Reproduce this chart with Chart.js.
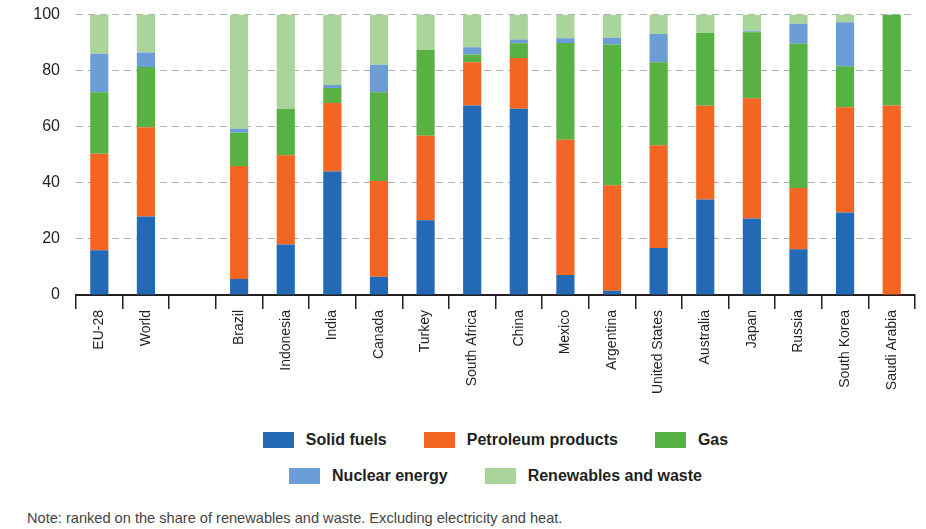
<!DOCTYPE html>
<html>
<head>
<meta charset="utf-8">
<script src="https://cdn.jsdelivr.net/npm/chart.js@4"></script>
<style>
	body {
		margin: 0;
		background: #fff;
		font-family: "Liberation Sans", Arial, sans-serif;
		color: #231f20;
	}
	#wrap {
		position: relative;
		width: 926px;
		height: 529px;
		overflow: hidden;
	}
	#chart-box {
		position: absolute;
		left: 0;
		top: -11px;
		width: 926px;
		height: 421px;
	}
	#legend {
		position: absolute;
		top: 431px;
	}
	.legend-row {
		display: flex;
		justify-content: center;
		gap: 37px;
		height: 35.5px;
	}
	.legend-item {
		display: flex;
		align-items: flex-start;
		font-weight: bold;
		font-size: 16px;
		line-height: 18px;
	}
	.legend-box {
		width: 31px;
		height: 16px;
		margin-right: 12px;
		margin-top: 1px;
	}
	#note {
		position: absolute;
		left: 27px;
		top: 510px;
		font-size: 14.6px;
		color: #444;
	}
</style>
</head>
<body>
<div id="wrap">
	<div id="chart-box"><canvas id="energyChart"></canvas></div>
	<div id="legend"></div>
	<div id="note">Note: ranked on the share of renewables and waste. Excluding electricity and heat.</div>
</div>
<script>
const categories = [
	"EU-28", "World", "", "Brazil", "Indonesia", "India", "Canada", "Turkey",
	"South Africa", "China", "Mexico", "Argentina", "United States",
	"Australia", "Japan", "Russia", "South Korea", "Saudi Arabia",
];

// shares in %, empty slot between World and Brazil
const solidFuels = [16, 28, null, 5.7, 18, 44, 6.5, 26.7, 67.6, 66.4, 7.1, 1.5, 16.8, 34.1, 27.3, 16.3, 29.4, 0];
const petroleum = [34.4, 31.8, null, 40.3, 31.8, 24.5, 34.2, 30.1, 15.4, 18.1, 48.3, 37.6, 36.6, 33.4, 42.9, 21.9, 37.6, 67.6];
const gas = [21.9, 21.5, null, 11.9, 16.5, 5.3, 31.6, 30.6, 2.8, 5.3, 34.5, 50.2, 29.6, 25.9, 23.5, 51.4, 14.6, 32.4];
const nuclear = [13.7, 5.2, null, 1.4, 0, 1.1, 9.8, 0, 2.6, 1.3, 1.7, 2.4, 10.1, 0, 0.4, 7.1, 15.7, 0];
const renewables = [14, 13.5, null, 40.7, 33.7, 25.1, 17.9, 12.6, 11.6, 8.9, 8.4, 8.3, 6.9, 6.6, 5.9, 3.3, 2.7, 0];

const yTicks = [0, 20, 40, 60, 80, 100];

const ctx = document.getElementById("energyChart").getContext("2d");
const chart = new Chart(ctx, {
	type: "bar",
	data: {
		labels: categories,
		datasets: [
			{ label: "Solid fuels", data: solidFuels, backgroundColor: "#2369b3" },
			{ label: "Petroleum products", data: petroleum, backgroundColor: "#f26522" },
			{ label: "Gas", data: gas, backgroundColor: "#57b143" },
			{ label: "Nuclear energy", data: nuclear, backgroundColor: "#6d9dd6" },
			{ label: "Renewables and waste", data: renewables, backgroundColor: "#a9d49a" },
		],
	},
	options: {
		responsive: true,
		maintainAspectRatio: false,
		animation: false,
		barPercentage: 0.39,
		categoryPercentage: 1,
		layout: {
			padding: { left: 0, right: 11, top: 3, bottom: 0 },
		},
		plugins: {
			legend: { display: false },
			tooltip: { enabled: false },
		},
		scales: {
			x: {
				stacked: true,
				afterFit: function (scale) {
					scale.height = 115;
				},
				grid: {
					offset: true,
					drawOnChartArea: false,
					drawTicks: true,
					tickLength: 14,
					color: "#231f20",
					lineWidth: 1.5,
				},
				border: { display: true, color: "#231f20", width: 2 },
				ticks: {
					autoSkip: false,
					maxRotation: 90,
					minRotation: 90,
					padding: 1,
					color: "#231f20",
					font: { family: "Liberation Sans", size: 14 },
				},
			},
			y: {
				stacked: true,
				min: 0,
				max: 100,
				afterFit: function (scale) {
					scale.width = 76;
				},
				afterBuildTicks: function (scale) {
					scale.ticks = yTicks.map((v) => ({ value: v }));
				},
				grid: {
					drawTicks: false,
					color: "#b0b0b0",
					lineWidth: 1,
				},
				border: { display: false, dash: [7, 5] },
				ticks: {
					padding: 16,
					color: "#231f20",
					font: { family: "Liberation Sans", size: 16 },
				},
			},
		},
	},
});

// legend in two rows, centred under the plot area
const legend = document.getElementById("legend");
legend.style.left = chart.chartArea.left + "px";
legend.style.width = chart.chartArea.right - chart.chartArea.left + "px";
const rows = [[0, 1, 2], [3, 4]];
rows.forEach(function (row) {
	const rowEl = document.createElement("div");
	rowEl.className = "legend-row";
	row.forEach(function (i) {
		const ds = chart.data.datasets[i];
		const item = document.createElement("div");
		item.className = "legend-item";
		const box = document.createElement("span");
		box.className = "legend-box";
		box.style.background = ds.backgroundColor;
		item.appendChild(box);
		item.appendChild(document.createTextNode(ds.label));
		rowEl.appendChild(item);
	});
	legend.appendChild(rowEl);
});
</script>
</body>
</html>
